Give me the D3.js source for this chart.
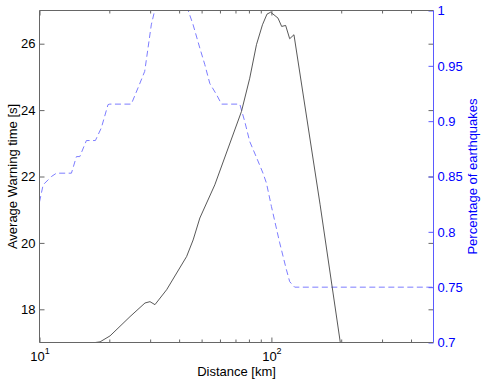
<!DOCTYPE html>
<html lang="en">
<head>
  <meta charset="UTF-8">
  <title>Average warning time vs distance</title>
  <style>
    body {
      margin: 0;
      padding: 0;
      background-color: #fff;
    }
    svg text {
      font-family: "Liberation Sans", Arial, Helvetica, sans-serif;
    }
    .domain {
      display: none;
    }
  </style>
</head>
<body>
  <script src="https://cdn.jsdelivr.net/npm/d3@7/dist/d3.min.js"></script>
  <div id="chart"></div>
  <script>
    // black curve: average warning time [s] against distance [km]
    var warnDist = [17.4, 18.25, 20.15, 24.57, 28.5, 29.95, 31.47, 35.34, 43.09, 45.98, 49.14, 57.02,
      74.29, 80.64, 86.21, 91.5, 95.7, 99.3, 106.8, 110.7, 115.2, 119.9, 125.1, 162.2, 198.2, 205];
    var warnTime = [17.0, 17.02, 17.2, 17.78, 18.19, 18.23, 18.14, 18.59, 19.59, 20.09, 20.75, 21.75,
      23.96, 24.96, 25.97, 26.57, 26.89, 26.95, 26.77, 26.52, 26.55, 26.15, 26.27, 21.15, 17.0, 16.7];

    // blue dashed curve: percentage of earthquakes against distance [km]
    var pctDist = [10, 10.37, 11.26, 11.83, 13.73, 14.43, 14.92, 15.93, 17.42, 18.48, 19.75, 20.09,
      24.88, 26.59, 28.42, 29.37, 30.34, 31.38, 43.77, 45.98, 49.14, 51.64, 54.26, 58.0, 60.95,
      73.05, 76.75, 80.64, 86.21, 92.0, 95.2, 100, 108.6, 116.0, 119.9, 126.0, 500];
    var pctValue = [0.827, 0.8425, 0.85, 0.853, 0.853, 0.868, 0.868, 0.8825, 0.8825, 0.894, 0.915, 0.9154,
      0.9154, 0.93, 0.945, 0.966, 0.987, 1.0, 1.0, 0.987, 0.966, 0.951, 0.934, 0.924, 0.9154,
      0.9154, 0.8997, 0.8816, 0.8673, 0.853, 0.844, 0.823, 0.79, 0.766, 0.755, 0.75, 0.75];

    // tick values
    var xMajorTicks = [10, 100];
    var xMinorTicks = [20, 30, 40, 50, 60, 70, 80, 90, 200, 300, 400];
    var leftTicks = [18, 20, 22, 24, 26];
    var rightTicks = [0.7, 0.75, 0.8, 0.85, 0.9, 0.95, 1];

    var width = 485, height = 381;
    var L = 39.5, R = 433.5, T = 10.5, B = 342.5;

    var svg = d3.select("#chart")
      .append("svg")
      .attr("width", width)
      .attr("height", height);

    var x = d3.scaleLog().domain([10, 500]).range([L, R]);
    var yL = d3.scaleLinear().domain([17, 27]).range([B, T]);
    var yR = d3.scaleLinear().domain([0.7, 1]).range([B, T]);

    svg.append("clipPath").attr("id", "plotClip")
      .append("rect")
      .attr("x", L).attr("y", T)
      .attr("width", R - L).attr("height", B - T);

    // curves
    var warnData = warnDist.map((d, i) => ({ d: d, v: warnTime[i] }));
    var pctData = pctDist.map((d, i) => ({ d: d, v: pctValue[i] }));

    svg.append("path")
      .datum(pctData)
      .attr("clip-path", "url(#plotClip)")
      .attr("fill", "none")
      .attr("stroke", "#7d7dff")
      .attr("stroke-width", 1)
      .attr("stroke-dasharray", "6,3.5")
      .attr("d", d3.line().x(p => x(p.d)).y(p => yR(p.v)));

    svg.append("path")
      .datum(warnData)
      .attr("clip-path", "url(#plotClip)")
      .attr("fill", "none")
      .attr("stroke", "#3a3a3a")
      .attr("stroke-width", 0.85)
      .attr("d", d3.line().x(p => x(p.d)).y(p => yL(p.v)));

    var grey = "#666";

    // bottom axis (inward ticks)
    svg.append("g").attr("transform", `translate(0,${B})`)
      .call(d3.axisBottom(x).tickValues(xMinorTicks).tickSize(-3).tickFormat(""));
    var bottomMajor = svg.append("g").attr("transform", `translate(0,${B})`)
      .call(d3.axisBottom(x).tickValues(xMajorTicks).tickSize(-5).tickFormat(""));
    bottomMajor.selectAll(".tick").each(function (d) {
      var t = d3.select(this).append("text")
        .attr("y", 18.5)
        .attr("fill", "#000")
        .attr("text-anchor", "middle")
        .style("font-size", "13px");
      t.append("tspan").text("10");
      t.append("tspan").attr("dy", -7).style("font-size", "9px").text(Math.round(Math.log10(d)));
    });

    // top mirrored ticks
    svg.append("g").attr("transform", `translate(0,${T})`)
      .call(d3.axisTop(x).tickValues(xMinorTicks).tickSize(-3).tickFormat(""));
    svg.append("g").attr("transform", `translate(0,${T})`)
      .call(d3.axisTop(x).tickValues(xMajorTicks).tickSize(-5).tickFormat(""));

    // left axis
    svg.append("g").attr("transform", `translate(${L},0)`)
      .call(d3.axisLeft(yL).tickValues(leftTicks).tickSize(-5).tickPadding(4).tickFormat(d3.format("d")))
      .selectAll("text").attr("fill", "#000").style("font-size", "13px");

    // left ticks mirrored on right side
    svg.append("g").attr("transform", `translate(${R},0)`)
      .call(d3.axisRight(yL).tickValues(leftTicks).tickSize(-5).tickFormat(""));

    svg.selectAll(".tick line").attr("stroke", grey);

    // right axis (blue)
    var rightAxis = svg.append("g").attr("transform", `translate(${R},0)`)
      .call(d3.axisRight(yR).tickValues(rightTicks).tickSize(-5).tickPadding(4)
        .tickFormat(d => String(+d.toFixed(2))));
    rightAxis.selectAll(".tick line").attr("stroke", "#5a5aff");
    rightAxis.selectAll("text").attr("fill", "#0000ff").style("font-size", "13px");

    // box
    svg.append("path")
      .attr("d", `M${R},${T}H${L}V${B}H${R}`)
      .attr("fill", "none")
      .attr("stroke", grey)
      .attr("stroke-width", 1);
    svg.append("line")
      .attr("x1", R).attr("x2", R).attr("y1", T).attr("y2", B)
      .attr("stroke", "#5a5aff")
      .attr("stroke-width", 1);

    // axis titles
    svg.append("text")
      .attr("transform", `translate(17,${(T + B) / 2}) rotate(-90)`)
      .attr("text-anchor", "middle")
      .style("font-size", "13px")
      .attr("fill", "#000")
      .text("Average Warning time [s]");

    svg.append("text")
      .attr("transform", `translate(476.5,${(T + B) / 2}) rotate(-90)`)
      .attr("text-anchor", "middle")
      .style("font-size", "13px")
      .attr("fill", "#0000ff")
      .text("Percentage of earthquakes");

    svg.append("text")
      .attr("x", (L + R) / 2)
      .attr("y", 376)
      .attr("text-anchor", "middle")
      .style("font-size", "13px")
      .attr("fill", "#000")
      .text("Distance [km]");
  </script>
</body>
</html>
